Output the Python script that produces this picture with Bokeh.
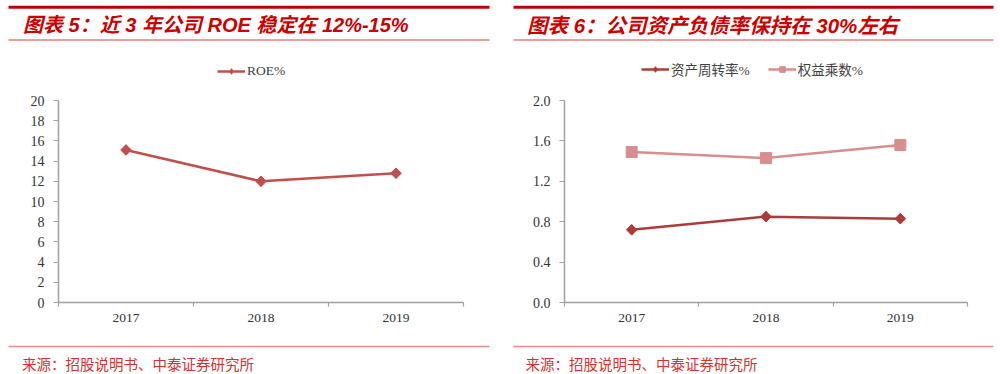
from bokeh.plotting import figure
from bokeh.models import (Range1d, FixedTicker, Legend, LegendItem, PrintfTickFormatter)
from bokeh.layouts import row, column
from bokeh.core.properties import value
from bokeh.embed import file_html
from bokeh.resources import INLINE

# ---------------- data ----------------
years = ["2017", "2018", "2019"]
roe = [15.1, 12.0, 12.8]
asset_turnover = [0.72, 0.85, 0.83]
equity_multiplier = [1.49, 1.43, 1.56]
left_y_ticks = [0, 2, 4, 6, 8, 10, 12, 14, 16, 18, 20]
right_y_ticks = [0.0, 0.4, 0.8, 1.2, 1.6, 2.0]
title_left = "图表 5：近 3 年公司 ROE 稳定在 12%-15%"
title_right = "图表 6：公司资产负债率保持在 30%左右"
source_text = "来源：招股说明书、中泰证券研究所"
label_roe = "ROE%"
label_turnover = "资产周转率%"
label_equity = "权益乘数%"

# category slots: each year sits in the middle of its slot, ticks on slot edges
x_pos = [i + 0.5 for i in range(len(years))]
x_edges = list(range(len(years) + 1))

# ---------------- style ----------------
W_LEFT, W_RIGHT = 504, 496
H_HEAD, H_CHART, H_FOOT = 53, 282, 39
TITLE_RED = "#CC0000"
THICK_RED = "#C00000"
PINK_LINE = "#E8A0A0"
SRC_LINE = "#E98B8B"
SRC_RED = "#D43030"
AXIS_GRAY = "#A0A0A0"
LABEL_COLOR = "#333333"
SERIF = "Liberation Serif, Noto Sans CJK SC"
TITLE_FONT = "Liberation Sans, Noto Sans CJK SC"


def header(width, title, x0, x1, tx, fs):
    p = figure(width=width, height=H_HEAD, x_range=Range1d(0, width), y_range=Range1d(H_HEAD, 0),
               x_axis_type=None, y_axis_type=None, toolbar_location=None, output_backend="svg",
               min_border=0, outline_line_color=None, frame_align=False)
    p.segment(x0=[x0], y0=[6.7], x1=[x1], y1=[6.7], line_width=3, line_color=THICK_RED)
    p.segment(x0=[x0], y0=[39.5], x1=[x1], y1=[39.5], line_width=2, line_color=PINK_LINE)
    p.text(x=[tx], y=[24.5], text=[title], text_baseline="middle", text_align="left",
           text_font=value(TITLE_FONT), text_font_size=fs, text_font_style="bold italic",
           text_color=TITLE_RED)
    return p


def footer(width, x0, x1, tx):
    p = figure(width=width, height=H_FOOT, x_range=Range1d(0, width), y_range=Range1d(H_FOOT, 0),
               x_axis_type=None, y_axis_type=None, toolbar_location=None, output_backend="svg",
               min_border=0, outline_line_color=None, frame_align=False)
    p.segment(x0=[x0], y0=[11], x1=[x1], y1=[11], line_width=1.5, line_color=SRC_LINE)
    p.text(x=[tx], y=[27.5], text=[source_text], text_baseline="middle", text_align="left",
           text_font=value("Noto Sans CJK SC"), text_font_size="14.5px", text_color=SRC_RED)
    return p


FRAME_H = 245
ZERO_TO_TOP = 202  # pixels between 0 and top tick


def chart(width, ticks, fmt, bl, br):
    ymax = ticks[-1] * FRAME_H / ZERO_TO_TOP
    p = figure(width=width, height=H_CHART, x_range=Range1d(0, len(years)), y_range=Range1d(0, ymax),
               toolbar_location=None, output_backend="svg",
               min_border_top=4, min_border_bottom=H_CHART - 4 - FRAME_H,
               min_border_left=bl, min_border_right=br, outline_line_color=None, frame_align=False)
    p.grid.grid_line_color = None
    ya = p.yaxis[0]
    ya.ticker = FixedTicker(ticks=ticks)
    ya.bounds = (ticks[0], ticks[-1])
    ya.formatter = PrintfTickFormatter(format=fmt)
    ya.axis_line_color = AXIS_GRAY
    ya.axis_line_width = 1.5
    ya.major_tick_line_color = AXIS_GRAY
    ya.major_tick_line_width = 1.2
    ya.major_tick_out = 5
    ya.major_tick_in = 0
    ya.minor_tick_line_color = None
    ya.major_label_standoff = 9
    ya.major_label_text_font = SERIF
    ya.major_label_text_font_size = "14px"
    ya.major_label_text_color = LABEL_COLOR

    xa = p.xaxis[0]
    xa.ticker = FixedTicker(ticks=x_pos, minor_ticks=x_edges)
    xa.major_label_overrides = {x: y for x, y in zip(x_pos, years)}
    xa.axis_line_color = AXIS_GRAY
    xa.axis_line_width = 1.5
    xa.major_tick_line_color = None
    xa.major_tick_out = 0
    xa.major_tick_in = 0
    xa.minor_tick_line_color = AXIS_GRAY
    xa.minor_tick_line_width = 1.2
    xa.minor_tick_out = 4
    xa.minor_tick_in = 0
    xa.major_label_standoff = 7
    xa.major_label_text_font = SERIF
    xa.major_label_text_font_size = "13.5px"
    xa.major_label_text_color = LABEL_COLOR
    return p


def legend(items, loc, spacing=0):
    lg = Legend(items=items, location=loc, orientation="horizontal", padding=0, margin=0,
                spacing=spacing, glyph_width=28, glyph_height=14, label_height=14,
                label_standoff=2, label_text_font=SERIF, label_text_font_size="13.5px",
                label_text_color="#404040", background_fill_alpha=0, border_line_color=None)
    return lg


def diamonds(p, ys, color):
    # narrow diamond (used for the legend key), covered by a 45-degree square on the chart
    key = p.scatter(x_pos, ys, marker="diamond", size=10, fill_color=color, line_color=color)
    p.scatter(x_pos, ys, marker="square", size=7.5, angle=45, angle_units="deg",
              fill_color=color, line_color=color)
    return key


# ---------- left panel ----------
h1 = header(W_LEFT, title_left, 8, 489, 22.5, "20px")
c1 = chart(W_LEFT, left_y_ticks, "%d", 58, W_LEFT - 463)
l1 = c1.line(x_pos, roe, line_color="#C0504D", line_width=2.5)
k1 = diamonds(c1, roe, "#C0504D")
c1.add_layout(legend([LegendItem(label=value(label_roe), renderers=[l1, k1])], (159, FRAME_H - 22)))
f1 = footer(W_LEFT, 8, 489, 21.5)

# ---------- right panel ----------
h2 = header(W_RIGHT, title_right, 9, 489, 22.5, "20.5px")
c2 = chart(W_RIGHT, right_y_ticks, "%.1f", 60, W_RIGHT - 463)
l2 = c2.line(x_pos, asset_turnover, line_color="#AE3B3B", line_width=2.5)
k2 = diamonds(c2, asset_turnover, "#AE3B3B")
l3 = c2.line(x_pos, equity_multiplier, line_color="#D88E8E", line_width=2.5)
m3 = c2.scatter(x_pos, equity_multiplier, marker="square", size=11, fill_color="#D88E8E", line_color="#D88E8E")
c2.add_layout(legend([LegendItem(label=value(label_turnover), renderers=[l2, k2]),
                      LegendItem(label=value(label_equity), renderers=[l3, m3])],
                     (77, FRAME_H - 22), spacing=18))
f2 = footer(W_RIGHT, 9, 489, 21)

layout = row(column(h1, c1, f1), column(h2, c2, f2))
open("out.html", "w").write(file_html(layout, INLINE))
